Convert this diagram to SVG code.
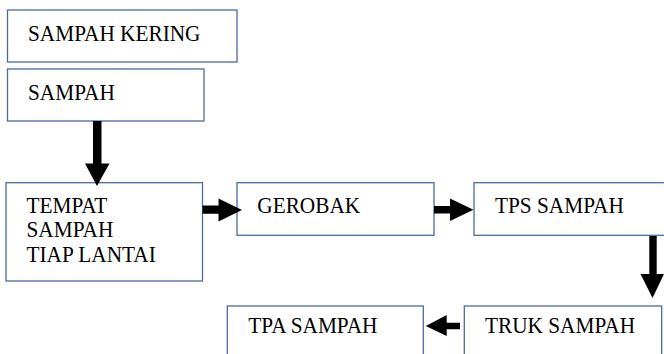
<svg xmlns="http://www.w3.org/2000/svg" width="664" height="354" viewBox="0 0 664 354">
<style>
.box{fill:#fff;stroke:#4a6b9c;stroke-width:1.3}
.arr{fill:#000}
</style>
<rect width="664" height="354" fill="#fff"/>
<g font-family="Liberation Serif, Times New Roman, serif" font-size="21.3" fill="#000">
<g id="sampah-kering"><rect class="box" x="7.5" y="10" width="229.5" height="52"/><text transform="translate(28,40.7) scale(1,1.1)">SAMPAH KERING</text></g>
<g id="sampah"><rect class="box" x="7.5" y="69" width="196.5" height="52"/><text transform="translate(28,99.5) scale(1,1.1)">SAMPAH</text></g>
<g id="tempat"><rect class="box" x="6" y="182.7" width="196.5" height="98.3"/><text transform="translate(26.5,213.3) scale(1,1.1)">TEMPAT</text><text transform="translate(26.5,237.3) scale(1,1.1)">SAMPAH</text><text transform="translate(26.5,261.5) scale(1,1.1)">TIAP LANTAI</text></g>
<g id="gerobak"><rect class="box" x="237" y="182.7" width="197" height="52.6"/><text transform="translate(257.3,213.3) scale(1,1.1)">GEROBAK</text></g>
<g id="tps"><rect class="box" x="474" y="182.7" width="200" height="52.6"/><text transform="translate(495,213.3) scale(1,1.1)">TPS SAMPAH</text></g>
<g id="truk"><rect class="box" x="464.3" y="306" width="197.4" height="60"/><text transform="translate(485,333.3) scale(1,1.1)">TRUK SAMPAH</text></g>
<g id="tpa"><rect class="box" x="227.3" y="306" width="196" height="60"/><text transform="translate(248.3,333.3) scale(1,1.1)">TPA SAMPAH</text></g>
</g>
<g id="connectors">
<polygon class="arr" points="93,121 101.5,121 101.5,163.5 109.5,163.5 97,186 85,163.5 93,163.5"/>
<polygon class="arr" points="202.5,205.5 218.5,205.5 218.5,198.5 242,210 218.5,221.5 218.5,213.8 202.5,213.8"/>
<polygon class="arr" points="434,206 450,206 450,198.5 473.5,209.8 450,221 450,213.5 434,213.5"/>
<polygon class="arr" points="649.3,236 656.7,236 656.7,274 664,274 652.5,298 640.5,274 649.3,274"/>
<polygon class="arr" points="460,322.7 446.7,322.7 446.7,315 425.7,326 446.7,336 446.7,329.3 460,329.3"/>
</g>
</svg>
